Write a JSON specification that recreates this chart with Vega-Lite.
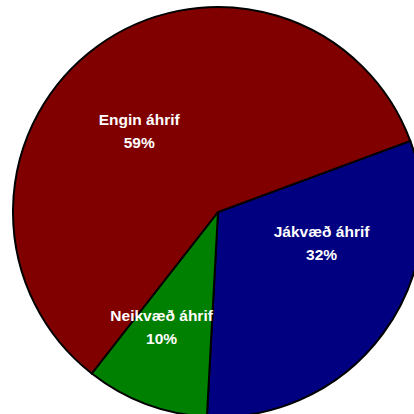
{
  "$schema": "https://vega.github.io/schema/vega-lite/v6.json",
  "width": 436,
  "height": 424,
  "autosize": "none",
  "padding": 0,
  "background": "white",
  "config": {"view": {"stroke": null}},
  "data": {
    "values": [
      {"name": "Jákvæð áhrif", "pct": "32%", "value": 31.5, "order": 1},
      {"name": "Neikvæð áhrif", "pct": "10%", "value": 9.7, "order": 2},
      {"name": "Engin áhrif", "pct": "59%", "value": 58.8, "order": 3}
    ]
  },
  "transform": [
    {"stack": "value", "groupby": [], "sort": [{"field": "order", "order": "ascending"}], "as": ["v0", "v1"]},
    {"calculate": "(datum.v0 + datum.v1) / 2", "as": "mid"},
    {"calculate": "datum.name + '\\n' + datum.pct", "as": "label"}
  ],
  "layer": [
    {
      "mark": {"type": "arc", "radius": 205, "stroke": "black", "strokeWidth": 2},
      "encoding": {
        "theta": {"field": "v0", "type": "quantitative", "scale": {"domain": [0, 100], "range": [1.2165, 7.4997]}},
        "theta2": {"field": "v1"},
        "color": {
          "field": "name",
          "type": "nominal",
          "scale": {"domain": ["Jákvæð áhrif", "Neikvæð áhrif", "Engin áhrif"], "range": ["#000080", "#008000", "#800000"]},
          "legend": null
        }
      }
    },
    {
      "transform": [{"filter": "datum.order == 1"}],
      "mark": {"type": "text", "radius": 115, "dx": 11, "dy": -48, "color": "white", "font": "Liberation Sans", "fontWeight": "bold", "fontSize": 15.5, "lineBreak": "\n", "lineHeight": 23, "align": "center", "baseline": "middle"},
      "encoding": {
        "theta": {"field": "mid", "type": "quantitative", "scale": {"domain": [0, 100], "range": [1.2165, 7.4997]}},
        "text": {"field": "label"}
      }
    },
    {
      "transform": [{"filter": "datum.order == 2"}],
      "mark": {"type": "text", "radius": 115, "dx": -16, "dy": -4, "color": "white", "font": "Liberation Sans", "fontWeight": "bold", "fontSize": 15.5, "lineBreak": "\n", "lineHeight": 23, "align": "center", "baseline": "middle"},
      "encoding": {
        "theta": {"field": "mid", "type": "quantitative", "scale": {"domain": [0, 100], "range": [1.2165, 7.4997]}},
        "text": {"field": "label"}
      }
    },
    {
      "transform": [{"filter": "datum.order == 3"}],
      "mark": {"type": "text", "radius": 115, "dx": -11, "dy": 1, "color": "white", "font": "Liberation Sans", "fontWeight": "bold", "fontSize": 15.5, "lineBreak": "\n", "lineHeight": 23, "align": "center", "baseline": "middle"},
      "encoding": {
        "theta": {"field": "mid", "type": "quantitative", "scale": {"domain": [0, 100], "range": [1.2165, 7.4997]}},
        "text": {"field": "label"}
      }
    }
  ]
}
